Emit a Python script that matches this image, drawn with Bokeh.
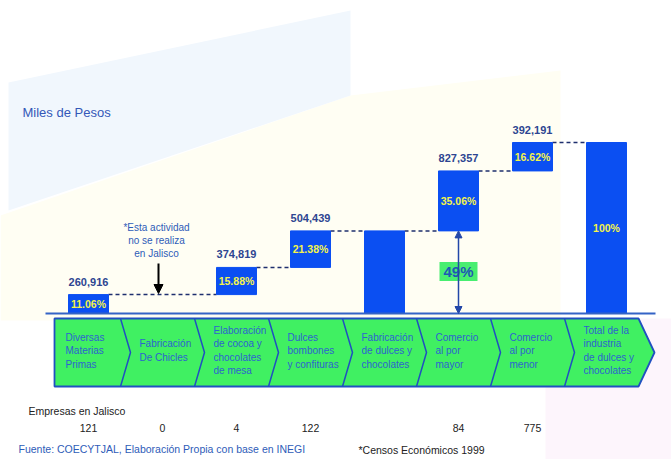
from bokeh.plotting import figure
from bokeh.models import Range1d, Arrow, NormalHead
from bokeh.core.properties import value
from bokeh.embed import file_html
from bokeh.resources import INLINE

# ---------------- data ----------------
categorias = [
    "Diversas\nMaterias\nPrimas",
    "Fabricación\nDe Chicles",
    "Elaboración\nde cocoa y\nchocolates\nde mesa",
    "Dulces\nbombones\ny confituras",
    "Fabricación\nde dulces y\nchocolates",
    "Comercio\nal por\nmayor",
    "Comercio\nal por\nmenor",
    "Total de la\nindustria\nde dulces y\nchocolates",
]
valores = [260916, 0, 374819, 504439, 0, 827357, 392191, 0]   # miles de pesos
tipo = ["inc", "none", "inc", "inc", "subtotal", "inc", "inc", "total"]
porcentajes = ["11.06%", "", "15.88%", "21.38%", "", "35.06%", "16.62%", "100%"]
empresas = ["121", "0", "4", "122", "", "84", "775", ""]
etiqueta_49 = "49%"

# ---------------- screen mapping helpers ----------------
X0, XS = 88.0, 74.0        # px of category 0, px per category
Y0, YS = 313.0, 13800.0    # px of value 0, value per px


def X(px):
    return (px - X0) / XS


def Y(py):
    return (Y0 - py) * YS


FONT = value("Liberation Sans")

p = figure(width=671, height=459, output_backend="svg", toolbar_location=None,
           x_range=Range1d(X(0), X(671)), y_range=Range1d(Y(459), Y(0)),
           x_axis_type=None, y_axis_type=None, min_border=0)
p.grid.visible = False
p.outline_line_color = None
p.background_fill_color = "white"
p.border_fill_color = "white"

# ---------------- soft background shapes ----------------
p.patch([X(0), X(350), X(560), X(560), X(0)], [Y(215), Y(95), Y(70), Y(320), Y(320)],
        fill_color="#FFFEF3", line_color=None)
p.patch([X(8), X(350), X(350), X(8)], [Y(82), Y(10), Y(95), Y(210)],
        fill_color="#F1F7FD", line_color=None)
p.patch([X(545), X(671), X(671), X(545)], [Y(318), Y(318), Y(459), Y(459)],
        fill_color="#FDF5FC", line_color=None)

# ---------------- waterfall computation ----------------
xs, bottoms, tops = [], [], []
cum = 0
for i, (v, t) in enumerate(zip(valores, tipo)):
    if t == "inc":
        xs.append(i); bottoms.append(cum); tops.append(cum + v); cum += v
    elif t in ("subtotal", "total"):
        xs.append(i); bottoms.append(0); tops.append(cum)
bar_w = 40 / XS

# dashed connectors
for k in range(len(xs) - 1):
    p.segment(x0=xs[k] + bar_w / 2, y0=tops[k], x1=xs[k + 1] - bar_w / 2, y1=tops[k],
              line_color="#1E2F6E", line_width=1.5, line_dash="4 3")

p.vbar(x=xs, bottom=bottoms, top=tops, width=bar_w, fill_color="#0B4FF2",
       line_color="#0B4FF2")

# baseline
p.segment(x0=X(45), y0=0, x1=X(655), y1=0, line_color="#3463C6", line_width=2)

# value labels and percentages
for x, b, t in zip(xs, bottoms, tops):
    i = x
    if tipo[i] == "inc":
        p.text(x=[x], y=[t + 13 * YS], text=[f"{valores[i]:,}"], text_align="center",
               text_baseline="middle", text_font=FONT, text_font_size="11px",
               text_font_style="bold", text_color="#2D4591")
    if porcentajes[i]:
        p.text(x=[x], y=[(b + t) / 2], text=[porcentajes[i]], text_align="center",
               text_baseline="middle", text_font=FONT, text_font_size="10.5px",
               text_font_style="bold", text_color="#F4F44A")

# 49% annotation
i_may = 5
sub = bottoms[xs.index(i_may)]
p.add_layout(Arrow(x_start=i_may, y_start=0, x_end=i_may, y_end=sub,
                   line_color="#2347A8", line_width=1.5,
                   start=NormalHead(size=7, fill_color="#2347A8", line_color="#2347A8"),
                   end=NormalHead(size=7, fill_color="#2347A8", line_color="#2347A8")))
p.rect(x=[i_may], y=[Y(271)], width=38 / XS, height=19 * YS, fill_color="#48EE70",
       line_color=None)
p.text(x=[i_may], y=[Y(271)], text=[etiqueta_49], text_align="center",
       text_baseline="middle", text_font=FONT, text_font_size="15px",
       text_font_style="bold", text_color="#1F58B4")

# note with arrow
for k, line in enumerate(["*Esta actividad", "no se realiza", "en Jalisco"]):
    p.text(x=[X(156)], y=[Y(227 + 13 * k)], text=[line], text_align="center",
           text_baseline="middle", text_font=FONT, text_font_size="10px",
           text_color="#2E5CB8")
p.add_layout(Arrow(x_start=X(158), y_start=Y(263), x_end=X(158), y_end=Y(293),
                   line_color="black", line_width=2,
                   end=NormalHead(size=9, fill_color="black", line_color="black")))

# ---------------- chevron band ----------------
top_px, bot_px, mid_px = 318, 386, 352
band_x = [X(54), X(638), X(654), X(638), X(54)]
band_y = [Y(top_px), Y(top_px), Y(mid_px), Y(bot_px), Y(bot_px)]
p.patch(band_x, band_y, fill_color="#40F062", line_color="#2050C0", line_width=1.8)
for i in range(1, len(categorias)):
    bx = 46 + 74 * i
    p.line([X(bx), X(bx + 10), X(bx)], [Y(top_px), Y(mid_px), Y(bot_px)],
           line_color="#2050C0", line_width=1.5)

for i, cat in enumerate(categorias):
    lines = cat.split("\n")
    left_px = 65 if i == 0 else 46 + 74 * i + 19
    n = len(lines)
    for k, line in enumerate(lines):
        ypx = 350 + (k - (n - 1) / 2) * 13.5
        p.text(x=[X(left_px)], y=[Y(ypx)], text=[line], text_align="left",
               text_baseline="middle", text_font=FONT, text_font_size="10px",
               text_color="#2D63CF")

# ---------------- texts ----------------
p.text(x=[X(22)], y=[Y(112)], text=["Miles de Pesos"], text_align="left",
       text_baseline="middle", text_font=FONT, text_font_size="13px",
       text_color="#3458B8")
p.text(x=[X(28)], y=[Y(410)], text=["Empresas en Jalisco"], text_align="left",
       text_baseline="middle", text_font=FONT, text_font_size="10.5px",
       text_color="#222222")
ex = [i for i, e in enumerate(empresas) if e]
p.text(x=ex, y=[Y(427)] * len(ex), text=[empresas[i] for i in ex], text_align="center",
       text_baseline="middle", text_font=FONT, text_font_size="10.5px",
       text_color="#222222")
p.text(x=[X(18)], y=[Y(448)], text=["Fuente: COECYTJAL, Elaboración Propia con base en INEGI"],
       text_align="left", text_baseline="middle", text_font=FONT, text_font_size="10.5px",
       text_color="#2E5CB8")
p.text(x=[X(358)], y=[Y(449)], text=["*Censos Económicos 1999"], text_align="left",
       text_baseline="middle", text_font=FONT, text_font_size="10.5px",
       text_color="#222222")

open("out.html", "w").write(file_html(p, INLINE))
